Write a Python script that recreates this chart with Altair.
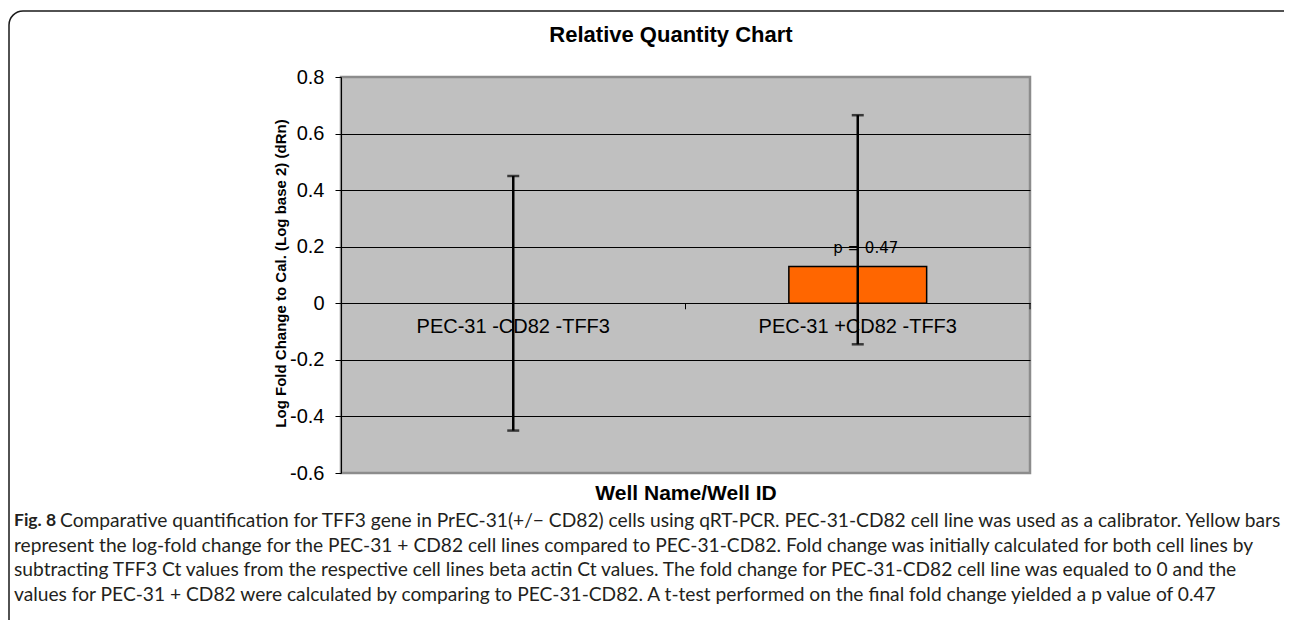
import altair as alt
import pandas as pd

# ---- data ----
categories = ["PEC-31 -CD82 -TFF3", "PEC-31 +CD82 -TFF3"]
values = [0.0, 0.13]
err_low = [-0.45, -0.145]
err_high = [0.45, 0.665]
p_labels = ["", "p = 0.47"]
y_ticks = [-0.6, -0.4, -0.2, 0.0, 0.2, 0.4, 0.6, 0.8]

chart_title = "Relative Quantity Chart"
x_title = "Well Name/Well ID"
y_title = "Log Fold Change to Cal. (Log base 2) (dRn)"
caption_lead = "Fig. 8"
caption_lines = [
    "Comparative quantification for TFF3 gene in PrEC-31(+/\u2212 CD82) cells using qRT-PCR. PEC-31-CD82 cell line was used as a calibrator. Yellow bars",
    "represent the log-fold change for the PEC-31 + CD82 cell lines compared to PEC-31-CD82. Fold change was initially calculated for both cell lines by",
    "subtracting TFF3 Ct values from the respective cell lines beta actin Ct values. The fold change for PEC-31-CD82 cell line was equaled to 0 and the",
    "values for PEC-31 + CD82 were calculated by comparing to PEC-31-CD82. A t-test performed on the final fold change yielded a p value of 0.47",
]

df = pd.DataFrame({"cat": categories, "val": values, "lo": err_low, "hi": err_high, "p": p_labels})

W, H = 689, 396
L0, T0 = 341, 77          # page position of the plot area
FONT = "Liberation Sans"
CAP_FONT = "Lato"

x_scale = alt.Scale(domain=categories, paddingInner=0, paddingOuter=0)
y_scale = alt.Scale(domain=[-0.6, 0.8], nice=False, zero=False)

x_axis = alt.Axis(
    title=x_title, offset=-170, ticks=False, domainColor="black", domainWidth=1,
    labelFont=FONT, labelFontSize=20, labelColor="black", labelPadding=13, labelAngle=0,
    labelLimit=0, labelOverlap=False,
    titleFont=FONT, titleFontSize=21, titleFontWeight="bold", titleColor="black",
    titleY=190, titleBaseline="middle",
)
y_axis = alt.Axis(
    title=y_title, values=y_ticks, labelExpr="'' + datum.value",
    labelFont=FONT, labelFontSize=20, labelColor="black", labelPadding=11,
    tickColor="black", tickSize=6, domainColor="black", domainWidth=1,
    grid=True, gridWidth=1,
    gridColor={"condition": {"test": "datum.value > 0.7 || datum.value < -0.5", "value": "#8c8c8c"}, "value": "#000000"},
    titleFont=FONT, titleFontSize=15, titleFontWeight="bold", titleColor="black",
    titleX=-61, titleY=H / 2 - 2, titleBaseline="middle", titleLimit=0,
)

X = alt.X("cat:N", sort=categories, scale=x_scale, axis=x_axis)
Xp = alt.X("cat:N", sort=categories)

base = alt.Chart(df)

frame = alt.Chart(pd.DataFrame({"k": [0]})).mark_rect(
    fill="transparent", stroke="#1a1a1a", strokeWidth=1.5, cornerRadius=14
).encode(
    x=alt.value(9 - L0), x2=alt.value(1320 - L0),
    y=alt.value(11 - T0), y2=alt.value(660 - T0),
)

bars = base.mark_bar(
    width=alt.RelativeBandSize(0.4), color="#FF6600", stroke="black", strokeWidth=1.5
).encode(
    x=X,
    y=alt.Y("val:Q", scale=y_scale, axis=y_axis),
    y2=alt.datum(0),
    opacity=alt.condition("datum.val == 0", alt.value(0), alt.value(1)),
)

err = base.mark_rule(color="black", strokeWidth=2.5).encode(x=Xp, y=alt.Y("lo:Q"), y2="hi:Q")
cap_lo = base.mark_tick(color="black", thickness=2.5, size=12).encode(x=Xp, y=alt.Y("lo:Q"))
cap_hi = base.mark_tick(color="black", thickness=2.5, size=12).encode(x=Xp, y=alt.Y("hi:Q"))
sep = base.mark_rule(color="black", strokeWidth=1, y2Offset=6).encode(
    x=alt.X("cat:N", sort=categories, bandPosition=1), y=alt.datum(0), y2=alt.datum(0)
)
ptext = base.mark_text(
    font="DejaVu Sans", fontSize=15, color="black", dx=8, dy=-19, baseline="middle"
).encode(x=Xp, y=alt.Y("val:Q"), text="p:N")

title_mark = alt.Chart(pd.DataFrame({"t": [chart_title]})).mark_text(
    font=FONT, fontSize=22, fontWeight="bold", color="black", align="center", baseline="middle"
).encode(x=alt.value(671 - L0), y=alt.value(35 - T0), text="t:N")

cap_layers = [
    alt.Chart(pd.DataFrame({"t": [caption_lead]})).mark_text(
        font=CAP_FONT, fontSize=17.5, fontWeight="bold", color="#231f20", align="left", baseline="middle"
    ).encode(x=alt.value(14 - L0), y=alt.value(521 - T0), text="t:N")
]
line_y = [521, 545.5, 570, 594.5]
line_x = [60, 14, 14, 14]
for i, line in enumerate(caption_lines):
    cap_layers.append(
        alt.Chart(pd.DataFrame({"t": [line]})).mark_text(
            font=CAP_FONT, fontSize=19.2, color="#231f20", align="left", baseline="middle"
        ).encode(x=alt.value(line_x[i] - L0), y=alt.value(line_y[i] - T0), text="t:N")
    )

chart = alt.layer(frame, bars, err, cap_lo, cap_hi, sep, ptext, title_mark, *cap_layers).properties(
    width=W, height=H,
    autosize=alt.AutoSizeParams(type="none"),
    padding={"left": 333, "top": 69, "right": 254, "bottom": 147},
).configure(
    background="white",
    view=alt.ViewConfig(fill="#C0C0C0", stroke="#8c8c8c", strokeWidth=2.5),
)

chart.save("out.html", embed_options={"renderer": "svg", "actions": False})
